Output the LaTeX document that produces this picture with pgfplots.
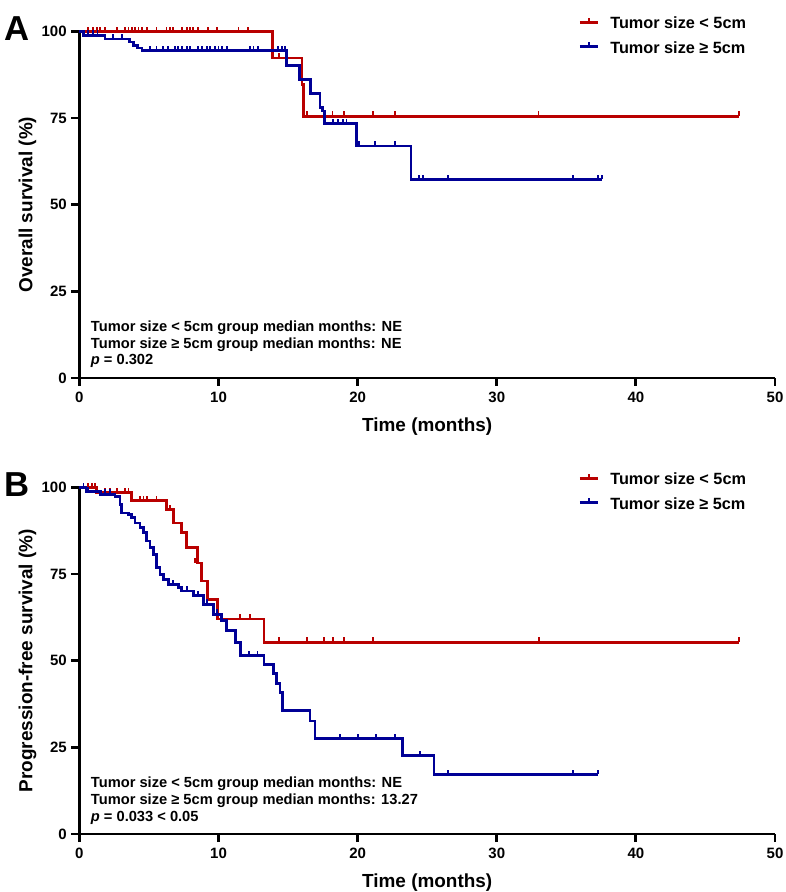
\documentclass[border=0pt]{standalone}
\usepackage{fontspec}
\setmainfont{Liberation Sans}
\usepackage{pgfplots}
\pgfplotsset{compat=1.18}
\definecolor{kmred}{RGB}{185,0,0}
\definecolor{kmblue}{RGB}{0,0,150}
\pgfdeclareplotmark{cens}{\pgfpathmoveto{\pgfpoint{0pt}{0pt}}\pgfpathlineto{\pgfpoint{0pt}{3.6pt}}\pgfusepathqstroke}
\pgfplotsset{
  kmaxis/.style={
    scale only axis, width=521.7pt, height=260pt,
    xmin=0, xmax=50, ymin=0, ymax=100,
    axis x line*=bottom, axis y line*=left,
    axis line style={line width=2.1pt, -},
    xtick={0,10,20,30,40,50}, ytick={0,25,50,75,100},
    tick align=outside, major tick length=6pt,
    every tick/.style={line width=2.1pt, black},
    tick label style={font=\fontsize{11.25}{13}\selectfont\bfseries},
    xticklabel style={yshift=-1pt},
    /pgf/number format/assume math mode=true,
    xlabel={Time (months)},
    label style={font=\fontsize{14.2}{16}\selectfont\bfseries},
    xlabel style={at={(axis description cs:0.5,-0.1413)}, anchor=center},
    ylabel style={at={(axis description cs:-0.0745,0.5)}, anchor=center},
    clip=false,
    legend style={at={(axis description cs:0.717,1.0415)}, anchor=north west,
      draw=none, fill=none, inner sep=0pt, row sep=9.1pt, column sep=8.3pt,
      font=\fontsize{12.2}{14}\selectfont\bfseries,
      nodes={inner sep=0pt, text height=8.8pt, text depth=0.3pt}},
    legend cell align=left,
    legend image code/.code={
      \draw[##1, line width=2.1pt] (0pt,0.6pt) -- (13.5pt,0.6pt);
      \draw[##1, line width=1.3pt] (6.75pt,0.6pt) -- (6.75pt,3.8pt);},
  },
  kmline/.style={const plot, line width=2.1pt, #1},
  kmcens/.style={only marks, mark=cens, mark options={line width=1.3pt, draw=#1}, forget plot},
}
\begin{document}
\begin{tikzpicture}
\useasboundingbox (-59.55pt,-43.5pt) rectangle (529.2pt,625.5pt);
% ---------------- Panel A ----------------
\begin{axis}[kmaxis, at={(0pt,342pt)}, anchor=south west,
  ylabel={Overall survival (\%)}]
\addplot[kmline=kmred] coordinates {(0,100) (13.87,92.3) (16.0,84.6) (16.1,75.5) (47.4,75.5)};
\addlegendentry{Tumor size < 5cm}
\addplot[kmline=kmblue] coordinates {(0,100) (0.3,98.9) (1.84,97.8) (3.6,96.9) (3.9,96.0) (4.2,95.2) (4.5,94.4)
  (14.9,90.2) (15.8,86.1) (16.6,82.0) (17.3,78.0) (17.5,77.0) (17.6,73.3) (19.93,66.9) (23.84,57.3) (37.55,57.3)};
\addlegendentry{Tumor size ≥ 5cm}
\addplot[kmcens=kmred] coordinates {(0.64,100) (1.0,100) (1.24,100) (1.48,100) (1.84,100) (2.68,100) (3.28,100)
  (3.52,100) (3.76,100) (4.0,100) (4.24,100) (4.48,100) (4.84,100) (5.55,100) (6.27,100) (6.51,100) (6.75,100)
  (7.35,100) (7.71,100) (7.95,100) (8.19,100) (8.55,100) (9.27,100) (9.87,100) (11.43,100) (12.14,100)
  (14.35,92.3) (16.38,75.5) (18.2,75.5) (19.0,75.5) (21.1,75.5) (22.7,75.5) (33.0,75.5) (47.4,75.5)};
\addplot[kmcens=kmblue] coordinates {(0.64,98.9) (1.0,98.9) (1.3,98.9) (2.44,97.8) (3.04,97.8)
  (5.08,94.4) (5.55,94.4) (6.03,94.4) (6.39,94.4) (6.87,94.4) (7.11,94.4) (7.35,94.4) (7.71,94.4) (7.95,94.4)
  (8.55,94.4) (8.79,94.4) (9.15,94.4) (9.39,94.4) (9.75,94.4) (9.99,94.4) (10.23,94.4) (10.59,94.4)
  (12.27,94.4) (12.51,94.4) (12.86,94.4) (14.3,94.4) (14.54,94.4) (14.78,94.4)
  (18.25,73.3) (18.6,73.3) (18.97,73.3) (19.2,73.3) (20.1,66.9) (21.25,66.9) (22.69,66.9)
  (24.4,57.3) (24.7,57.3) (26.5,57.3) (35.5,57.3) (37.3,57.3) (37.55,57.3)};
\node[anchor=west, inner sep=0pt, font=\fontsize{11}{13}\selectfont\bfseries] at (axis cs:0.81,14.4) {Tumor size < 5cm group median months: NE};
\node[anchor=west, inner sep=0pt, font=\fontsize{11}{13}\selectfont\bfseries] at (axis cs:0.81,9.6) {Tumor size ≥ 5cm group median months: NE};
\node[anchor=west, inner sep=0pt, font=\fontsize{11}{13}\selectfont\bfseries] at (axis cs:0.81,4.8) {\textit{p} = 0.302};
\end{axis}
% ---------------- Panel B ----------------
\begin{axis}[kmaxis, at={(0pt,0pt)}, anchor=south west,
  ylabel={Progression-free survival (\%)}]
\addplot[kmline=kmred] coordinates {(0,100) (1.24,98.4) (3.76,96.2) (6.27,93.6) (6.75,89.7) (7.35,86.9) (7.71,82.6)
  (8.5,78.2) (8.79,73.0) (9.2,67.7) (9.94,62.0) (13.27,55.3) (47.4,55.3)};
\addlegendentry{Tumor size < 5cm}
\addplot[kmline=kmblue] coordinates {(0,100) (0.5,98.8) (1.5,98.0) (2.56,97.4) (2.92,95.0) (3.04,92.6) (3.52,92.1)
  (3.76,91.2) (4.0,89.7) (4.36,88.3) (4.6,86.9) (4.84,84.5) (5.08,82.6) (5.31,80.7) (5.55,76.8) (5.79,74.9)
  (6.03,73.5) (6.39,72.0) (7.11,71.1) (7.35,70.1) (8.19,68.7) (8.91,66.3) (9.63,63.4) (10.23,61.5) (10.59,58.6)
  (11.2,55.2) (11.6,51.4) (13.27,48.9) (13.94,46.2) (14.18,43.5) (14.42,40.9) (14.61,35.6) (16.58,32.6)
  (16.94,27.5) (23.24,22.7) (25.49,17.2) (37.3,17.2)};
\addlegendentry{Tumor size ≥ 5cm}
\addplot[kmcens=kmred] coordinates {(0.64,100) (0.88,100) (1.12,100) (1.84,98.4) (2.2,98.4) (2.68,98.4) (3.28,98.4)
  (3.52,98.4) (4.36,96.2) (4.6,96.2) (4.84,96.2) (5.55,96.2) (6.51,93.6) (8.31,78.2) (11.55,62.0) (12.27,62.0)
  (14.37,55.3) (16.34,55.3) (17.6,55.3) (18.21,55.3) (19.04,55.3) (21.13,55.3) (33.06,55.3) (47.4,55.3)};
\addplot[kmcens=kmblue] coordinates {(0.3,100) (0.64,98.8) (1.84,98.0) (2.2,98.0) (6.75,72.0) (7.71,70.1) (8.55,68.7)
  (9.15,66.3) (9.87,63.4) (12.2,51.4) (12.8,51.4) (18.73,27.5) (20.0,27.5) (21.3,27.5) (22.69,27.5)
  (24.49,22.7) (26.52,17.2) (35.5,17.2) (37.3,17.2)};
\node[anchor=west, inner sep=0pt, font=\fontsize{11}{13}\selectfont\bfseries] at (axis cs:0.81,14.5) {Tumor size < 5cm group median months: NE};
\node[anchor=west, inner sep=0pt, font=\fontsize{11}{13}\selectfont\bfseries] at (axis cs:0.81,9.7) {Tumor size ≥ 5cm group median months: 13.27};
\node[anchor=west, inner sep=0pt, font=\fontsize{11}{13}\selectfont\bfseries] at (axis cs:0.81,4.6) {\textit{p} = 0.033 < 0.05};
\end{axis}
\node[font=\fontsize{26}{26}\selectfont\bfseries] at (-46.8pt,603.75pt) {A};
\node[font=\fontsize{26}{26}\selectfont\bfseries] at (-46.8pt,261.75pt) {B};
\end{tikzpicture}
\end{document}
